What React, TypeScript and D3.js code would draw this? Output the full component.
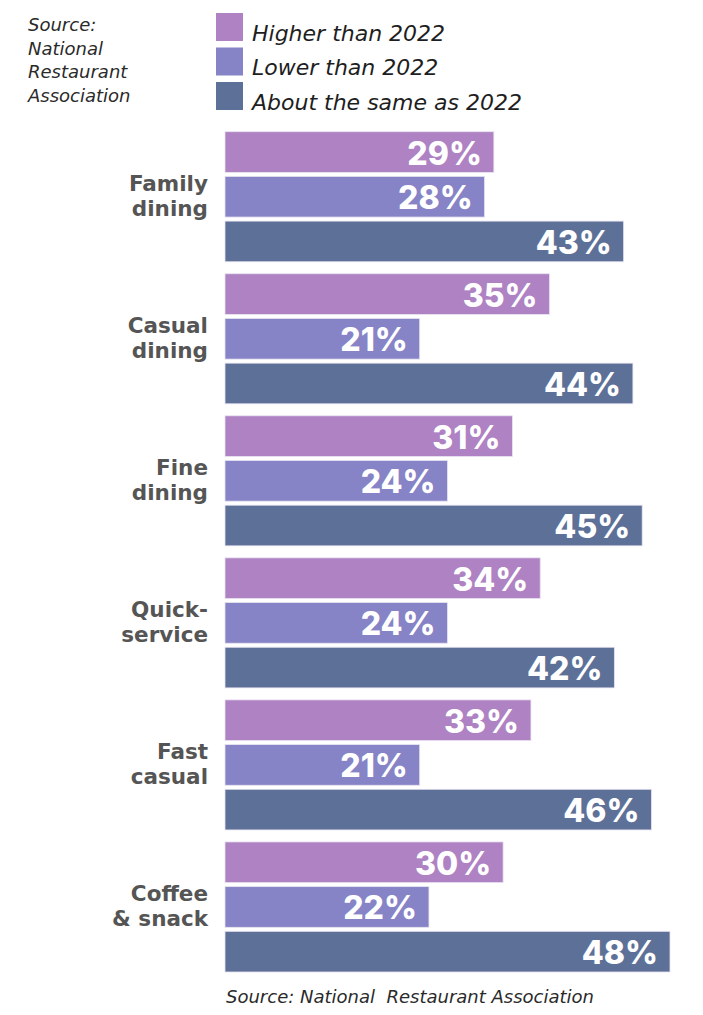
import React from "react";
import * as d3 from "d3";

const categories = [
  "Family dining",
  "Casual dining",
  "Fine dining",
  "Quick-service",
  "Fast casual",
  "Coffee & snack",
];
const categoryLines = [
  ["Family", "dining"],
  ["Casual", "dining"],
  ["Fine", "dining"],
  ["Quick-", "service"],
  ["Fast", "casual"],
  ["Coffee", "& snack"],
];
const seriesNames = ["Higher than 2022", "Lower than 2022", "About the same as 2022"];
const seriesColors = ["#ae82c3", "#8683c6", "#5d7198"];
const higher = [29, 35, 31, 34, 33, 30];
const lower = [28, 21, 24, 24, 21, 22];
const same = [43, 44, 45, 42, 46, 48];
const seriesValues = [higher, lower, same];

const W = 703;
const H = 1015;
const italicFont = "'DejaVu Sans', sans-serif";
const labelFont = "'DejaVu Sans', sans-serif";
const valueFont = "Inter, 'DejaVu Sans', sans-serif";

export default function App() {
  const x = d3.scaleLinear().domain([0, 48]).range([225, 670]);
  const y0 = d3
    .scaleBand<string>()
    .domain(categories)
    .range([131.7, 972])
    .paddingInner(12 / 142.3)
    .paddingOuter(0)
    .align(0);
  const y1 = d3
    .scaleBand<number>()
    .domain([0, 1, 2])
    .range([0, y0.bandwidth()])
    .paddingInner(0.09);

  return (
    <svg
      width={W}
      height={H}
      style={{ position: "absolute", left: 0, top: 0, background: "#fff" }}
    >
      {/* left source */}
      <g fontFamily={italicFont} fontStyle="italic" fontSize={18} fill="#2a2a2a">
        {["Source:", "National", "Restaurant", "Association"].map((t, i) => (
          <text key={t} x={28} y={31 + i * 23.6}>
            {t}
          </text>
        ))}
      </g>

      {/* legend */}
      <g>
        {seriesNames.map((s, i) => (
          <g key={s} transform={`translate(216,${13 + i * 34.5})`}>
            <rect width={27} height={28} fill={seriesColors[i]} />
            <text
              x={36}
              y={27.5}
              fontFamily={italicFont}
              fontStyle="italic"
              fontSize={22}
              fill="#1e1e1e"
            >
              {s}
            </text>
          </g>
        ))}
      </g>

      {/* bars */}
      {categories.map((c, ci) => {
        const gy = y0(c)!;
        const mid = y0.bandwidth() / 2;
        return (
          <g key={c} transform={`translate(0,${gy})`}>
            <text
              textAnchor="end"
              fontFamily={labelFont}
              fontWeight={700}
              fontSize={21.5}
              fill="#555"
            >
              <tspan x={208} y={mid - 6}>
                {categoryLines[ci][0]}
              </tspan>
              <tspan x={208} y={mid + 19}>
                {categoryLines[ci][1]}
              </tspan>
            </text>
            {seriesValues.map((vals, si) => {
              const v = vals[ci];
              const by = y1(si)!;
              return (
                <g key={si}>
                  <rect
                    x={x(0)}
                    y={by}
                    width={x(v) - x(0)}
                    height={y1.bandwidth()}
                    fill={seriesColors[si]}
                    stroke="#e8e4f0"
                    strokeWidth={0.8}
                  />
                  <text
                    x={x(v) - 12}
                    y={by + y1.bandwidth() / 2 + 12.5}
                    textAnchor="end"
                    fontFamily={valueFont}
                    fontWeight={800}
                    fontSize={32}
                    fill="#fff"
                  >
                    {v}%
                  </text>
                </g>
              );
            })}
          </g>
        );
      })}

      {/* bottom source */}
      <text
        x={226}
        y={1003}
        fontFamily={italicFont}
        fontStyle="italic"
        fontSize={18}
        fill="#2a2a2a"
        xmlSpace="preserve"
      >
        Source: National  Restaurant Association
      </text>
    </svg>
  );
}
